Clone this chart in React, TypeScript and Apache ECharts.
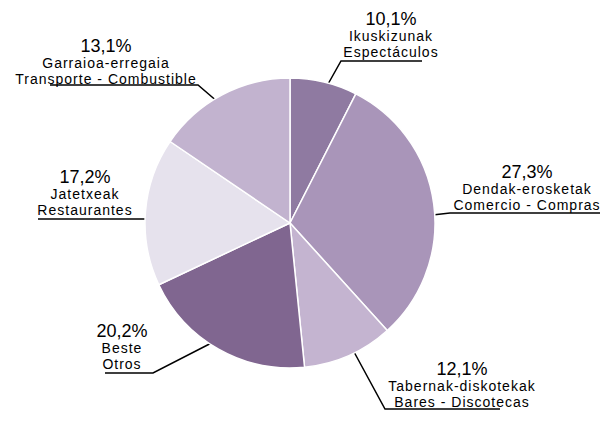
import React, { useEffect, useRef } from "react";
import * as echarts from "echarts";

const namesEu = ["Ikuskizunak", "Dendak-erosketak", "Tabernak-diskotekak", "Beste", "Jatetxeak", "Garraioa-erregaia"];
const namesEs = ["Espectáculos", "Comercio - Compras", "Bares - Discotecas", "Otros", "Restaurantes", "Transporte - Combustible"];
const percentLabels = ["10,1%", "27,3%", "12,1%", "20,2%", "17,2%", "13,1%"];
const sliceValues = [7.5, 30.8, 10.1, 19.6, 16.5, 15.5];
const sliceColors = ["#8f7aa1", "#a995b9", "#c4b4d0", "#806690", "#e6e2ed", "#c2b3cf"];

// label placement (layout only): text centre x, text bottom y, leader polyline
const labelLayouts = [
  { cx: 391, bottom: 60, pts: [[323, 93], [341, 61], [422, 61]] },
  { cx: 527, bottom: 213, pts: [[415, 217], [450, 213], [600, 213]] },
  { cx: 462, bottom: 410, pts: [[347, 339], [385, 409], [500, 409]] },
  { cx: 122, bottom: 372, pts: [[227, 335], [153, 373], [105, 373]] },
  { cx: 85, bottom: 218, pts: [[168, 219], [100, 219], [38, 219]] },
  { cx: 106, bottom: 87, pts: [[233, 115], [198, 85], [50, 85]] },
];

const FONT = "Liberation Sans, Arial, sans-serif";

export default function App() {
  const ref = useRef<HTMLDivElement>(null);
  useEffect(() => {
    document.body.style.margin = "0";
    const chart = echarts.init(ref.current!, undefined, { renderer: "svg" });
    const data = sliceValues.map((v, i) => ({
      value: v,
      name: namesEu[i],
      itemStyle: { color: sliceColors[i] },
      label: {
        formatter: `{p|${percentLabels[i]}}\n{n|${namesEu[i]}}\n{n|${namesEs[i]}}`,
      },
    }));
    chart.setOption({
      animation: false,
      backgroundColor: "#ffffff",
      series: [
        {
          type: "pie",
          center: [290, 223],
          radius: 145,
          startAngle: 90,
          clockwise: true,
          avoidLabelOverlap: false,
          data,
          itemStyle: { borderColor: "#ffffff", borderWidth: 1.5 },
          emphasis: { disabled: true },
          label: {
            show: true,
            position: "outside",
            fontFamily: FONT,
            color: "#000",
            align: "center",
            rich: {
              p: { fontSize: 18, lineHeight: 19, color: "#000", fontFamily: FONT, align: "center" },
              n: { fontSize: 14, lineHeight: 16, color: "#000", fontFamily: FONT, align: "center" },
            },
          },
          labelLine: { show: true, lineStyle: { color: "#000", width: 1.5 } },
          labelLayout: (params: any) => {
            const l = labelLayouts[params.dataIndex];
            return {
              x: l.cx,
              y: l.bottom,
              align: "center",
              verticalAlign: "bottom",
              labelLinePoints: l.pts,
            };
          },
        },
      ],
    });
    return () => chart.dispose();
  }, []);
  return (
    <>
      <style>{"#pie-chart svg text[style*='14px']{letter-spacing:1px}"}</style>
      <div id="pie-chart" ref={ref} style={{ width: 616, height: 435 }} />
    </>
  );
}
